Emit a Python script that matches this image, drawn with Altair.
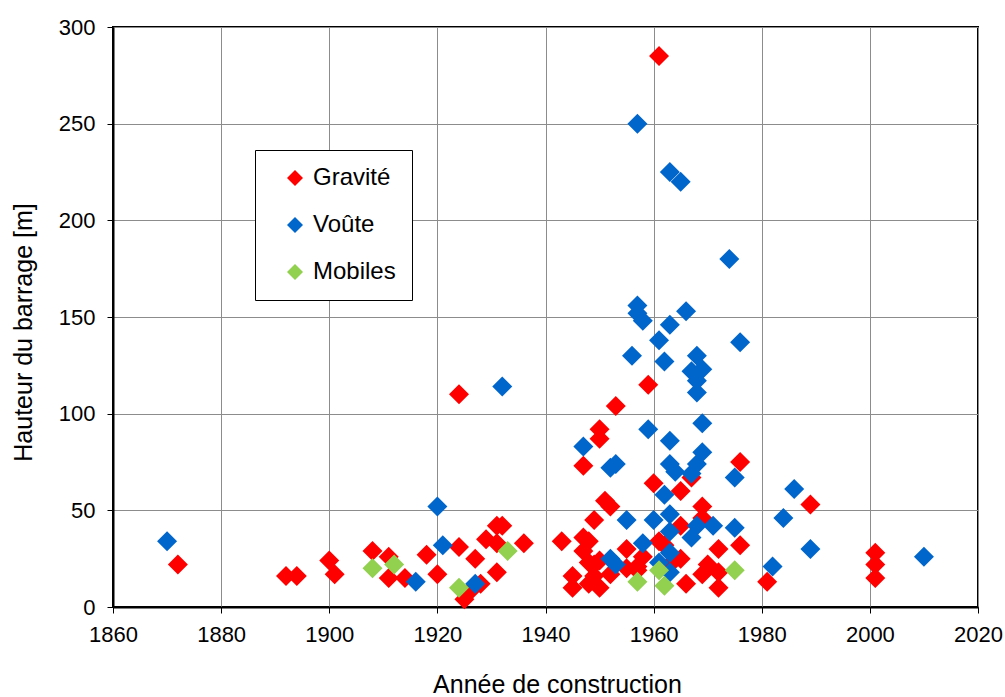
import altair as alt
import pandas as pd

# Dam construction year vs dam height, by dam type
gravite_annee = [1872, 1892, 1894, 1900, 1901, 1908, 1911, 1911, 1914, 1918,
                 1920, 1924, 1924, 1925, 1926, 1927, 1928, 1929, 1931, 1931,
                 1932, 1931, 1936, 1943, 1945, 1945, 1947, 1947, 1947, 1948,
                 1948, 1948, 1949, 1949, 1949, 1950, 1950, 1950, 1950, 1951,
                 1952, 1952, 1953, 1955, 1955, 1957, 1957, 1958, 1959, 1960,
                 1961, 1961, 1962, 1963, 1965, 1965, 1965, 1966, 1967, 1969,
                 1969, 1969, 1970, 1972, 1972, 1972, 1976, 1976, 1981, 1989,
                 2001, 2001, 2001]
gravite_hauteur = [22, 16, 16, 24, 17, 29, 26, 15, 15, 27,
                   17, 110, 31, 4, 8, 25, 12, 35, 18, 42,
                   42, 33, 33, 34, 16, 10, 36, 29, 73, 34,
                   23, 12, 45, 22, 16, 10, 92, 87, 24, 55,
                   52, 17, 104, 30, 20, 21, 19, 26, 115, 64,
                   285, 34, 32, 22, 60, 42, 25, 12, 67, 52,
                   46, 17, 22, 30, 18, 10, 75, 32, 13, 53,
                   28, 22, 15]

voute_annee = [1870, 1916, 1920, 1921, 1927, 1932, 1947, 1952, 1953, 1952,
               1953, 1955, 1956, 1957, 1957, 1957, 1958, 1958, 1959, 1960,
               1961, 1962, 1962, 1963, 1963, 1963, 1963, 1963, 1963, 1963,
               1961, 1963, 1964, 1965, 1966, 1967, 1967, 1967, 1968, 1968,
               1968, 1968, 1968, 1969, 1969, 1969, 1971, 1974, 1975, 1975,
               1976, 1982, 1984, 1986, 1989, 2010]
voute_hauteur = [34, 13, 52, 32, 12, 114, 83, 72, 74, 25,
                 22, 45, 130, 250, 156, 152, 148, 33, 92, 45,
                 138, 127, 58, 225, 146, 86, 74, 48, 39, 28,
                 23, 18, 70, 220, 153, 122, 69, 36, 130, 117,
                 111, 74, 42, 123, 95, 80, 42, 180, 67, 41,
                 137, 21, 46, 61, 30, 26]

mobiles_annee = [1908, 1912, 1924, 1933, 1957, 1961, 1962, 1975]
mobiles_hauteur = [20, 22, 10, 29, 13, 19, 11, 19]

types = ["Gravité", "Voûte", "Mobiles"]
couleurs = ["#FF0000", "#0066CC", "#92D050"]

frames = []
for nom, annees, hauteurs in [
    ("Gravité", gravite_annee, gravite_hauteur),
    ("Voûte", voute_annee, voute_hauteur),
    ("Mobiles", mobiles_annee, mobiles_hauteur),
]:
    frames.append(pd.DataFrame({"annee": annees, "hauteur": hauteurs, "type": nom}))
df = pd.concat(frames, ignore_index=True)
df["ordre"] = df["type"].map({t: i for i, t in enumerate(types)})

FONT = "Liberation Sans"

chart = alt.Chart(df).mark_point(
    shape="diamond", filled=True, size=400, opacity=1, strokeWidth=0
).encode(
    x=alt.X(
        "annee:Q",
        scale=alt.Scale(domain=[1860, 2020], nice=False, zero=False),
        axis=alt.Axis(
            values=list(range(1860, 2021, 20)),
            format="d",
            title="Année de construction",
            titleX=444,
            titleY=85,
            titleAlign="center",
            titleBaseline="alphabetic",
            labelPadding=11,
            labelFlush=False,
        ),
    ),
    y=alt.Y(
        "hauteur:Q",
        scale=alt.Scale(domain=[0, 300], nice=False),
        axis=alt.Axis(
            values=list(range(0, 301, 50)),
            title="Hauteur du barrage [m]",
            titleX=-82,
            titleY=305,
            titleAngle=270,
            titleAlign="center",
            titleBaseline="alphabetic",
            labelPadding=12,
            labelFlush=False,
        ),
    ),
    color=alt.Color(
        "type:N",
        scale=alt.Scale(domain=types, range=couleurs),
        legend=alt.Legend(
            title=None,
            orient="none",
            legendX=142,
            legendY=123,
            padding=16,
            symbolOffset=12,
            symbolSize=256,
            symbolType="diamond",
            symbolStrokeWidth=0,
            labelFontSize=24,
            labelFont=FONT,
            labelColor="black",
            labelOffset=6,
            rowPadding=23,
            strokeColor="black",
            fillColor="white",
        ),
    ),
    order=alt.Order("ordre:Q"),
).properties(
    width=865,
    height=580,
    background="white",
    autosize=alt.AutoSizeParams(type="none"),
    padding={"left": 113, "top": 27, "right": 27, "bottom": 90},
).configure_view(
    stroke="black", strokeWidth=2
).configure_axis(
    grid=True,
    gridColor="#8c8c8c",
    gridWidth=1,
    domainColor="black",
    domainWidth=2,
    tickColor="black",
    tickSize=6,
    tickWidth=1,
    labelFont=FONT,
    labelFontSize=22,
    labelColor="black",
    titleFont=FONT,
    titleFontSize=25,
    titleFontWeight="normal",
    titleColor="black",
)

chart.save("out.html", embed_options={"renderer": "svg", "actions": False})
